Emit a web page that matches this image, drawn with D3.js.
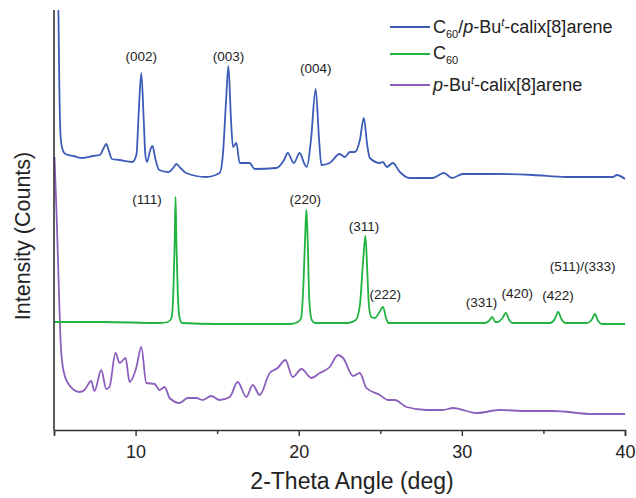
<!DOCTYPE html>
<html>
<head>
<meta charset="utf-8">
<script src="https://cdn.jsdelivr.net/npm/d3@7"></script>
<style>
  body { margin: 0; background: #fff; }
  svg text { font-family: "Liberation Sans", Arial, sans-serif; fill: #222; }
</style>
</head>
<body>
<div id="xrd"></div>
<script>
// chart size, matches the picture
const width = 636, height = 498;
const margin = { top: 10, right: 11, bottom: 68, left: 54 };

// x ticks
const tickValues = [5, 10, 15, 20, 25, 30, 35, 40];
const tickLabels = ["", "10", "", "20", "", "30", "", "40"];

// series: [2-theta, intensity (offset, arb. units)]
const complexData = [
  [5.27, 420], [5.33, 340], [5.4, 295], [5.5, 282], [5.7, 276], [6.2, 274], [6.75, 272],
  [7.4, 274], [7.8, 275], [8.05, 282], [8.2, 286], [8.35, 280], [8.55, 271], [9.0, 270],
  [9.8, 268], [10.05, 275], [10.2, 320], [10.35, 357], [10.5, 310], [10.6, 275], [10.7, 268],
  [10.9, 280], [11.04, 284], [11.2, 272], [11.45, 260], [12.0, 258], [12.3, 262], [12.5, 266],
  [12.75, 262], [13.1, 257], [14.3, 253], [15.15, 257], [15.35, 275], [15.55, 330], [15.69, 364],
  [15.85, 310], [15.97, 283], [16.18, 287], [16.38, 267], [16.99, 267], [17.3, 261], [18.63, 262],
  [19.1, 270], [19.33, 277], [19.7, 267], [20.06, 277], [20.35, 266], [20.5, 263], [20.75, 290],
  [21.04, 341], [21.25, 290], [21.39, 265], [21.9, 267], [22.5, 276], [22.83, 273], [23.13, 278],
  [23.44, 278], [23.75, 290], [23.99, 312], [24.2, 285], [24.36, 272], [24.98, 267], [25.16, 268],
  [25.4, 263], [25.77, 267], [26.2, 258], [26.8, 252], [28.2, 252], [28.9, 257], [29.4, 252],
  [30.06, 256], [31.9, 256], [34.35, 255], [36.4, 253], [39.26, 253], [39.5, 255], [40, 251]
];

const c60Data = [
  [5.03, 108], [8, 108], [11.5, 107], [11.98, 108], [12.2, 112], [12.32, 140], [12.4, 190],
  [12.45, 233], [12.5, 190], [12.58, 140], [12.7, 112], [12.85, 107], [15, 106], [19.5, 106],
  [19.95, 108], [20.15, 112], [20.3, 150], [20.42, 205], [20.47, 220], [20.53, 200], [20.65, 130],
  [20.8, 110], [21.0, 107], [23.0, 107], [23.5, 110], [23.75, 125], [23.95, 170], [24.09, 194],
  [24.2, 160], [24.3, 125], [24.45, 113], [24.67, 112], [24.95, 118], [25.17, 123], [25.35, 112],
  [25.5, 107], [31.4, 107], [31.65, 109], [31.86, 113], [32.05, 108], [32.21, 108], [32.45, 111],
  [32.7, 117], [32.9, 110], [33.1, 107], [35.4, 107], [35.7, 111], [35.9, 118], [36.1, 111],
  [36.35, 107], [37.65, 107], [37.95, 110], [38.16, 116], [38.35, 109], [38.6, 106], [40, 106]
];

const calixData = [
  [5.03, 273], [5.15, 220], [5.3, 140], [5.4, 90], [5.54, 63], [5.85, 47], [6.56, 38], [6.87, 40],
  [7.28, 49], [7.48, 39], [7.9, 60], [8.2, 41], [8.4, 43], [8.77, 77], [9.02, 67], [9.39, 72],
  [9.63, 48], [10.04, 62], [10.35, 83], [10.66, 47], [11.17, 46], [11.47, 40], [11.78, 43],
  [12.09, 32], [12.7, 27], [13.19, 32], [13.72, 32], [14.11, 30], [14.64, 34], [15.15, 30],
  [15.77, 33], [16.26, 48], [16.79, 33], [17.18, 45], [17.61, 35], [18.22, 57], [18.71, 62],
  [19.18, 70], [19.63, 53], [20.17, 61], [20.78, 52], [21.29, 57], [21.9, 63], [22.41, 75],
  [22.72, 72], [23.33, 54], [23.74, 57], [24.15, 42], [24.97, 35], [25.48, 30], [25.89, 30],
  [26.61, 23], [27.83, 20], [28.83, 20], [29.45, 22], [30.9, 17], [32.33, 20], [33.97, 19],
  [35.58, 19], [38.04, 16], [40, 16]
];

// peak labels: [2-theta, intensity, text]
const complexPeaks = [[10.35, 373, "(002)"], [15.7, 373, "(003)"], [21.05, 361, "(004)"]];
const c60Peaks = [
  [10.7, 230, "(111)"], [20.4, 230, "(220)"], [24.0, 203, "(311)"], [25.3, 135, "(222)"],
  [31.2, 127, "(331)"], [33.4, 136, "(420)"], [35.9, 134, "(422)"], [37.4, 163, "(511)/(333)"]
];

const colors = { complex: "#3d5cb8", c60: "#1fb33f", calix: "#8b5fbd" };

const svg = d3.select("#xrd")
  .append("svg")
  .attr("width", width)
  .attr("height", height);

const xScale = d3.scaleLinear()
  .domain([5, 40])
  .range([margin.left, width - margin.right]);

const yScale = d3.scaleLinear()
  .domain([0, 420])
  .range([height - margin.bottom, margin.top]);

const line = d3.line()
  .x(d => xScale(d[0]))
  .y(d => yScale(d[1]))
  .curve(d3.curveMonotoneX);

// traces
[[calixData, colors.calix], [c60Data, colors.c60], [complexData, colors.complex]].forEach(([data, c]) => {
  svg.append("path")
    .datum(data)
    .attr("fill", "none")
    .attr("stroke", c)
    .attr("stroke-width", 1.8)
    .attr("stroke-linejoin", "round")
    .attr("d", line);
});

// x axis
const xAxis = svg.append("g")
  .attr("transform", `translate(0,${height - margin.bottom})`)
  .call(d3.axisBottom(xScale)
    .tickValues(tickValues)
    .tickFormat((d, i) => tickLabels[i])
    .tickSizeOuter(0)
    .tickSize(6)
    .tickPadding(9));
xAxis.select(".domain").attr("stroke", "#333").attr("stroke-width", 1.6);
xAxis.selectAll(".tick line")
  .attr("stroke", "#333")
  .attr("stroke-width", 1.4)
  .attr("y2", (d, i) => tickLabels[i] === "" ? 4 : 6);
xAxis.selectAll(".tick text")
  .attr("font-size", "18px")
  .style("font-family", "Liberation Sans, Arial, sans-serif")
  .attr("fill", "#222");

// y axis (no ticks)
svg.append("line")
  .attr("x1", margin.left).attr("x2", margin.left)
  .attr("y1", margin.top).attr("y2", height - margin.bottom)
  .attr("stroke", "#333")
  .attr("stroke-width", 1.6);

// axis titles
svg.append("text")
  .attr("x", 352)
  .attr("y", 489)
  .attr("text-anchor", "middle")
  .attr("font-size", "23px")
  .text("2-Theta Angle (deg)");

svg.append("text")
  .attr("transform", `translate(30,${236}) rotate(-90)`)
  .attr("text-anchor", "middle")
  .attr("font-size", "21.5px")
  .text("Intensity (Counts)");

// peak labels
complexPeaks.concat(c60Peaks).forEach(p => {
  svg.append("text")
    .attr("x", xScale(p[0]))
    .attr("y", yScale(p[1]))
    .attr("text-anchor", "middle")
    .attr("dominant-baseline", "middle")
    .attr("font-size", "13.5px")
    .text(p[2]);
});

// legend
const legend = svg.append("g").attr("transform", "translate(390,0)");
const legendRows = [[27, colors.complex], [54, colors.c60], [85, colors.calix]];
legendRows.forEach(([y, c]) => {
  legend.append("line")
    .attr("x1", 0).attr("x2", 40)
    .attr("y1", y).attr("y2", y)
    .attr("stroke", c)
    .attr("stroke-width", 1.8);
});

const t1 = legend.append("text").attr("x", 43).attr("y", 33).attr("font-size", "18px");
t1.append("tspan").text("C");
t1.append("tspan").attr("font-size", "11px").attr("dy", 5).text("60");
t1.append("tspan").attr("dy", -5).text("/");
t1.append("tspan").attr("font-style", "italic").text("p");
t1.append("tspan").text("-Bu");
t1.append("tspan").attr("font-size", "11px").attr("font-style", "italic").attr("dy", -7).text("t");
t1.append("tspan").attr("dy", 7).text("-calix[8]arene");

const t2 = legend.append("text").attr("x", 43).attr("y", 59).attr("font-size", "18px");
t2.append("tspan").text("C");
t2.append("tspan").attr("font-size", "11px").attr("dy", 5).text("60");

const t3 = legend.append("text").attr("x", 43).attr("y", 91).attr("font-size", "18px");
t3.append("tspan").attr("font-style", "italic").text("p");
t3.append("tspan").text("-Bu");
t3.append("tspan").attr("font-size", "11px").attr("font-style", "italic").attr("dy", -7).text("t");
t3.append("tspan").attr("dy", 7).text("-calix[8]arene");
</script>
</body>
</html>
